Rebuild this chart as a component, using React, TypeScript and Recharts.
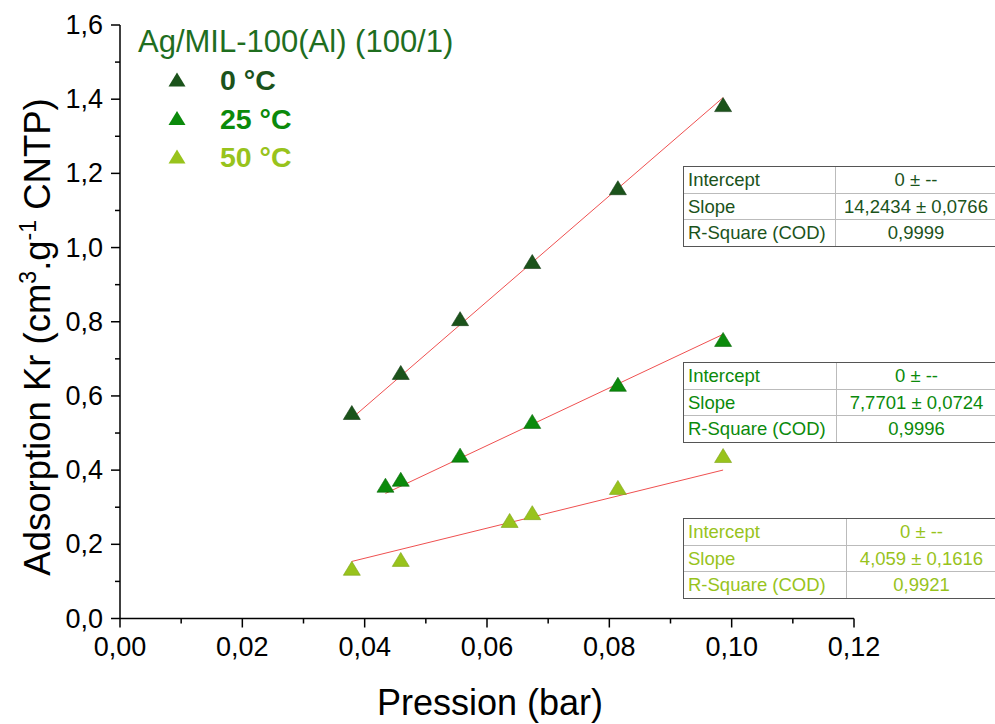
import React from 'react';
import { ScatterChart, Scatter, XAxis, YAxis, ReferenceLine } from 'recharts';

// ---- data ----
const pressure0 = [0.0379, 0.0459, 0.0556, 0.0674, 0.0814, 0.0986];
const ads0 = [0.554, 0.662, 0.807, 0.961, 1.160, 1.384];
const pressure25 = [0.0434, 0.0459, 0.0556, 0.0674, 0.0814, 0.0986];
const ads25 = [0.358, 0.374, 0.439, 0.530, 0.630, 0.751];
const pressure50 = [0.0379, 0.0459, 0.0637, 0.0674, 0.0814, 0.0986];
const ads50 = [0.134, 0.158, 0.263, 0.284, 0.352, 0.438];

const slopes = [14.2434, 7.7701, 4.059];
const slopeErr = ['0,0766', '0,0724', '0,1616'];
const slopeTxt = ['14,2434', '7,7701', '4,059'];
const rSquare = ['0,9999', '0,9996', '0,9921'];
const seriesNames = ['0 °C', '25 °C', '50 °C'];
const colors = ['#1b531b', '#0b8a0b', '#98c31c'];
const edgeColors = ['#123a12', '#066606', '#7ea315'];

const xTicks = [0, 0.01, 0.02, 0.03, 0.04, 0.05, 0.06, 0.07, 0.08, 0.09, 0.1, 0.11, 0.12];
const yTicks = [0, 0.1, 0.2, 0.3, 0.4, 0.5, 0.6, 0.7, 0.8, 0.9, 1.0, 1.1, 1.2, 1.3, 1.4, 1.5, 1.6];

const toPts = (xs: number[], ys: number[]) => xs.map((x, i) => ({ x, y: ys[i] }));
const series = [toPts(pressure0, ads0), toPts(pressure25, ads25), toPts(pressure50, ads50)];
const xsList = [pressure0, pressure25, pressure50];

const FONT = '"Liberation Sans", Arial, sans-serif';
const TICK_SIZE = 9;
const TICK_MARGIN = 3;

const Triangle = (color: string, edge: string) => (props: any) => {
  const { cx, cy } = props;
  if (cx == null || cy == null) return null;
  return (
    <polygon
      points={`${cx},${cy - 7.5} ${cx - 8.5},${cy + 6.5} ${cx + 8.5},${cy + 6.5}`}
      fill={color}
      stroke={edge}
      strokeWidth={0.6}
    />
  );
};

const YTick = (props: any) => {
  const { x, y, payload } = props;
  const v = payload.value;
  const major = Math.round(v * 10) % 2 === 0;
  const axisX = x + TICK_SIZE + TICK_MARGIN;
  return (
    <g>
      <line x1={axisX - (major ? 9 : 5)} x2={axisX} y1={y} y2={y} stroke="#000" strokeWidth={1.5} />
      {major && (
        <text x={axisX - 17} y={y} textAnchor="end" dominantBaseline="central" fontSize={27} fontFamily={FONT} fill="#000">
          {v.toFixed(1).replace('.', ',')}
        </text>
      )}
    </g>
  );
};

const XTick = (props: any) => {
  const { x, y, payload } = props;
  const v = payload.value;
  const major = Math.round(v * 100) % 2 === 0;
  const axisY = y - TICK_SIZE - TICK_MARGIN;
  return (
    <g>
      <line x1={x} x2={x} y1={axisY} y2={axisY + (major ? 9 : 5)} stroke="#000" strokeWidth={1.5} />
      {major && (
        <text x={x} y={axisY + 28} textAnchor="middle" dominantBaseline="central" fontSize={27} fontFamily={FONT} fill="#000">
          {v.toFixed(2).replace('.', ',')}
        </text>
      )}
    </g>
  );
};

const tableTops = [166, 362, 518];
const tableDividers = [835, 836, 846];

const FitTable = ({ idx }: { idx: number }) => {
  const color = colors[idx];
  const top = tableTops[idx];
  const div = tableDividers[idx];
  const rows = [
    ['Intercept', '0 ± --'],
    ['Slope', `${slopeTxt[idx]} ± ${slopeErr[idx]}`],
    ['R-Square (COD)', rSquare[idx]],
  ];
  const left = 683;
  const col1 = div - left;
  const col2 = 1005 - div;
  return (
    <div
      style={{
        position: 'absolute',
        left,
        top,
        width: col1 + col2,
        border: '1.5px solid #555',
        borderRight: 'none',
        background: '#fff',
        fontFamily: FONT,
        fontSize: 18.5,
        color,
      }}
    >
      {rows.map((r, i) => (
        <div key={i} style={{ display: 'flex', height: 25.5, borderTop: i > 0 ? '1px solid #bbb' : 'none', lineHeight: '25px' }}>
          <div style={{ width: col1, paddingLeft: 4, boxSizing: 'border-box', borderRight: '1px solid #bbb', whiteSpace: 'nowrap' }}>{r[0]}</div>
          <div style={{ width: col2, textAlign: 'center', paddingRight: 10, boxSizing: 'border-box', whiteSpace: 'nowrap' }}>{r[1]}</div>
        </div>
      ))}
    </div>
  );
};

export default function App() {
  return (
    <div style={{ position: 'absolute', left: 0, top: 0, width: 995, height: 724, overflow: 'hidden', background: '#fff' }}>
      <ScatterChart width={995} height={724} margin={{ top: 25, right: 141, bottom: 20, left: 20 }}>
        <XAxis
          type="number"
          dataKey="x"
          domain={[0, 0.12]}
          ticks={xTicks}
          interval={0}
          tickSize={TICK_SIZE}
          tickMargin={TICK_MARGIN}
          tickLine={false}
          tick={<XTick />}
          axisLine={{ stroke: '#000', strokeWidth: 1.5 }}
          height={85.5}
          allowDataOverflow
        />
        <YAxis
          type="number"
          dataKey="y"
          domain={[0, 1.6]}
          ticks={yTicks}
          interval={0}
          tickSize={TICK_SIZE}
          tickMargin={TICK_MARGIN}
          tickLine={false}
          tick={<YTick />}
          axisLine={{ stroke: '#000', strokeWidth: 1.5 }}
          width={100}
          allowDataOverflow
        />
        {slopes.map((s, i) => {
          const xs = xsList[i];
          const x0 = Math.min(...xs);
          const x1 = Math.max(...xs);
          return (
            <ReferenceLine
              key={`fit${i}`}
              segment={[{ x: x0, y: s * x0 }, { x: x1, y: s * x1 }]}
              stroke="#ef5050"
              strokeWidth={1}
              ifOverflow="visible"
            />
          );
        })}
        {series.map((d, i) => (
          <Scatter
            key={seriesNames[i]}
            name={seriesNames[i]}
            data={d}
            fill={colors[i]}
            shape={Triangle(colors[i], edgeColors[i])}
            isAnimationActive={false}
          />
        ))}
      </ScatterChart>

      <svg width={995} height={724} style={{ position: 'absolute', left: 0, top: 0, pointerEvents: 'none' }}>
        <text
          transform="translate(50,337) rotate(-90)"
          textAnchor="middle"
          fontSize={36.5}
          fontFamily={FONT}
          fill="#000"
        >
          Adsorption Kr (cm<tspan dy={-14} fontSize={23}>3</tspan>
          <tspan dy={14}>.g</tspan>
          <tspan dy={-14} fontSize={23}>-1</tspan>
          <tspan dy={14}> CNTP)</tspan>
        </text>
        <text x={490} y={715} textAnchor="middle" fontSize={36} fontFamily={FONT} fill="#000">
          Pression (bar)
        </text>
        <text x={138} y={52} fontSize={31} fontFamily={FONT} fill="#1f6e1f">
          Ag/MIL-100(Al) (100/1)
        </text>
        {seriesNames.map((n, i) => {
          const cy = 80 + i * 38.5;
          return (
            <g key={n}>
              <polygon
                points={`${177},${cy - 7.5} ${168.5},${cy + 6.5} ${185.5},${cy + 6.5}`}
                fill={colors[i]}
              />
              <text x={220} y={cy + 10} fontSize={28.5} fontWeight="bold" fontFamily={FONT} fill={colors[i]}>
                {n}
              </text>
            </g>
          );
        })}
      </svg>

      {[0, 1, 2].map((i) => (
        <FitTable key={i} idx={i} />
      ))}
    </div>
  );
}
